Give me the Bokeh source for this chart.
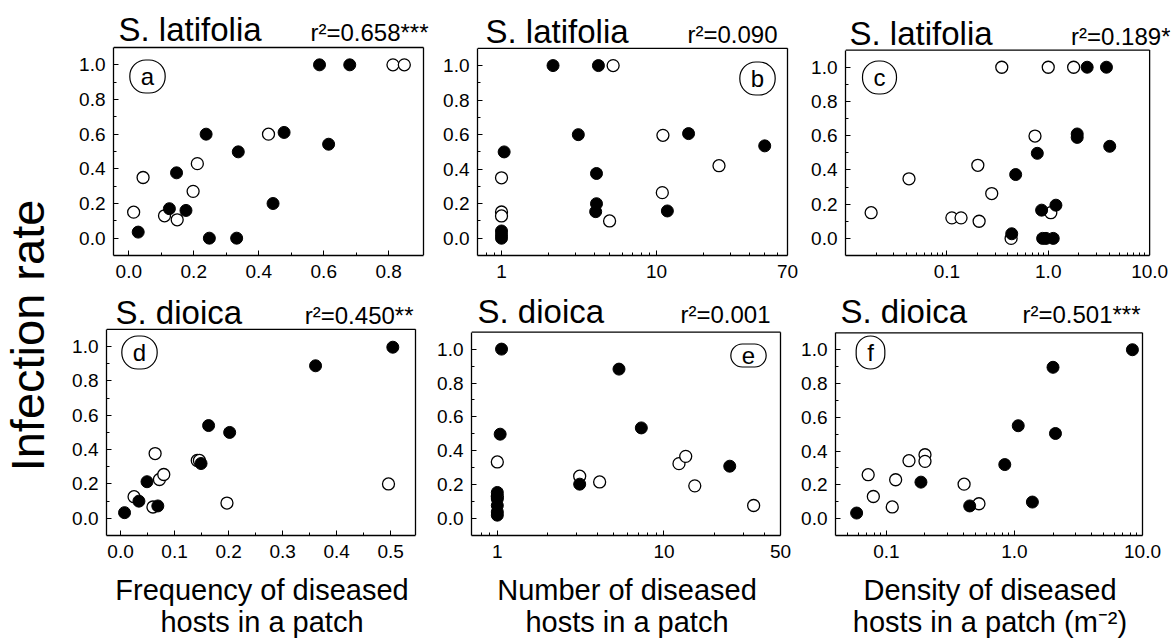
import math
from bokeh.plotting import figure
from bokeh.models import (Range1d, FixedTicker, CustomJSTickFormatter, Label, LinearAxis)
from bokeh.layouts import row, column
from bokeh.embed import file_html
from bokeh.resources import INLINE

FONT = "Liberation Sans"

# ---------------- data ----------------
# (a) S. latifolia, frequency
a_filled_x = [0.029, 0.125, 0.147, 0.176, 0.238, 0.248, 0.332, 0.337, 0.444, 0.478, 0.587, 0.615, 0.680]
a_filled_y = [0.035, 0.17, 0.377, 0.16, 0.60, 0.0, 0.0, 0.498, 0.20, 0.61, 1.0, 0.542, 1.0]
a_open_x = [0.015, 0.044, 0.110, 0.149, 0.198, 0.211, 0.430, 0.813, 0.848]
a_open_y = [0.15, 0.35, 0.129, 0.106, 0.27, 0.43, 0.60, 1.0, 1.0]

# (b) S. latifolia, number
b_filled_x = [2.15, 4.22, 3.13, 1.04, 4.10, 4.10, 4.05, 11.75, 16.1, 49.9, 1.0, 1.0, 1.0]
b_filled_y = [1.0, 1.0, 0.60, 0.50, 0.375, 0.20, 0.154, 0.158, 0.606, 0.535, 0.042, 0.02, 0.0]
b_open_x = [5.25, 1.0, 1.0, 1.0, 4.98, 11.0, 10.9, 25.3]
b_open_y = [1.0, 0.35, 0.152, 0.129, 0.10, 0.596, 0.264, 0.42]

# (c) S. latifolia, density
c_filled_x = [0.436, 0.477, 0.78, 0.86, 0.88, 0.95, 1.12, 1.19, 1.93, 1.93, 2.42, 3.75, 4.04]
c_filled_y = [0.027, 0.373, 0.497, 0.165, 0.0, 0.0, 0.0, 0.194, 0.61, 0.59, 1.0, 1.0, 0.538]
c_open_x = [0.0179, 0.0423, 0.112, 0.138, 0.208, 0.202, 0.277, 0.348, 0.43, 0.74, 1.0, 1.06, 1.78]
c_open_y = [0.15, 0.348, 0.12, 0.12, 0.10, 0.427, 0.262, 1.0, 0.0, 0.598, 1.0, 0.15, 1.0]

# (d) S. dioica, frequency
d_filled_x = [0.0074, 0.034, 0.049, 0.069, 0.149, 0.163, 0.202, 0.361, 0.504]
d_filled_y = [0.033, 0.10, 0.213, 0.072, 0.319, 0.54, 0.50, 0.888, 0.996]
d_open_x = [0.025, 0.060, 0.064, 0.072, 0.080, 0.142, 0.146, 0.197, 0.496]
d_open_y = [0.126, 0.066, 0.377, 0.226, 0.255, 0.337, 0.337, 0.089, 0.20]

# (e) S. dioica, number
e_filled_x = [1.06, 1.04, 1.0, 1.0, 1.0, 1.0, 1.0, 3.12, 5.37, 7.31, 24.8]
e_filled_y = [1.0, 0.498, 0.154, 0.116, 0.077, 0.039, 0.02, 0.203, 0.882, 0.535, 0.309]
e_open_x = [1.0, 1.0, 3.12, 4.11, 12.3, 13.5, 15.3, 34.5]
e_open_y = [0.334, 0.13, 0.25, 0.216, 0.324, 0.367, 0.193, 0.077]

# (f) S. dioica, density
f_filled_x = [0.0585, 0.186, 0.447, 0.84, 1.07, 1.38, 2.0, 2.09, 8.34]
f_filled_y = [0.033, 0.216, 0.075, 0.32, 0.55, 0.098, 0.896, 0.504, 1.0]
f_open_x = [0.072, 0.079, 0.111, 0.118, 0.150, 0.200, 0.200, 0.404, 0.528]
f_open_y = [0.26, 0.131, 0.069, 0.23, 0.343, 0.378, 0.339, 0.204, 0.088]

# ---------------- ticks / labels ----------------
y_major = [0.0, 0.2, 0.4, 0.6, 0.8, 1.0]
y_minor = [0.1, 0.3, 0.5, 0.7, 0.9]
a_xmajor = [0.0, 0.2, 0.4, 0.6, 0.8]
a_xminor = [0.1, 0.3, 0.5, 0.7]
d_xmajor = [0.0, 0.1, 0.2, 0.3, 0.4, 0.5]
d_xminor = [0.05, 0.15, 0.25, 0.35, 0.45]
b_xmajor = [1, 10, 70]
b_xminor = [0.8, 0.9, 2, 3, 4, 5, 6, 7, 8, 9, 20, 30, 40, 50, 60]
e_xmajor = [1, 10, 50]
e_xminor = [0.8, 0.9, 2, 3, 4, 5, 6, 7, 8, 9, 20, 30, 40]
c_xmajor = [0.1, 1.0, 10.0]
c_xminor = [0.02, 0.03, 0.04, 0.05, 0.06, 0.07, 0.08, 0.09,
            0.2, 0.3, 0.4, 0.5, 0.6, 0.7, 0.8, 0.9, 2, 3, 4, 5, 6, 7, 8, 9]
f_xmajor = [0.1, 1.0, 10.0]
f_xminor = [0.05, 0.06, 0.07, 0.08, 0.09,
            0.2, 0.3, 0.4, 0.5, 0.6, 0.7, 0.8, 0.9, 2, 3, 4, 5, 6, 7, 8, 9]

y_lo, y_hi = -0.1, 1.1

species_top = "S. latifolia"
species_bottom = "S. dioica"
r2_texts = ["r\u00b2=0.658***", "r\u00b2=0.090", "r\u00b2=0.189*",
            "r\u00b2=0.450**", "r\u00b2=0.001", "r\u00b2=0.501***"]
letters = ["a", "b", "c", "d", "e", "f"]
xlabels = [("Frequency of diseased", "hosts in a patch"),
           ("Number of diseased", "hosts in a patch"),
           ("Density of diseased", "hosts in a patch (m\u207b\u00b2)")]
ylabel = "Infection rate"

SP_SIZE, R2_SIZE = 33, 24
BASE_FIX = 0.31     # alphabetic baseline correction (fraction of font size)


def panel(fx, fy, ox, oy, xrange, log, xmaj, xmin, ndec, box, ext, species, r2,
          letter, letter_xy, sp_dx, gap, r2_dx, xlabel=None):
    # box: left border, box width, right border, box top (from canvas top), box height, bottom border
    fl, fw, fr, btop, fh, fb = box
    T = btop                                # title area kept inside the frame
    ytop = y_hi + (y_hi - y_lo) * T / fh
    x0, x1 = xrange
    if log:
        x1f = 10 ** (math.log10(x1) + (math.log10(x1) - math.log10(x0)) * ext / fw)
    else:
        x1f = x1 + (x1 - x0) * ext / fw
    p = figure(width=fl + fw + fr, height=T + fh + fb,
               x_axis_type="log" if log else "linear",
               x_range=Range1d(x0, x1f), y_range=Range1d(y_lo, ytop),
               output_backend="svg", toolbar_location=None, title_location=None,
               min_border_left=fl, min_border_right=fr - ext,
               min_border_top=0, min_border_bottom=fb)
    p.background_fill_color = "white"
    p.border_fill_color = "white"
    p.xgrid.visible = False
    p.ygrid.visible = False
    p.outline_line_color = None
    xax = p.xaxis[0]
    yax = p.yaxis[0]
    xax.ticker = FixedTicker(ticks=xmaj, minor_ticks=xmin)
    yax.ticker = FixedTicker(ticks=y_major, minor_ticks=y_minor)
    xax.formatter = CustomJSTickFormatter(code="return tick.toFixed(%d)" % ndec)
    yax.formatter = CustomJSTickFormatter(code="return tick.toFixed(1)")
    yax.bounds = (y_lo, y_hi)
    xax.bounds = (x0, x1)
    for ax in (xax, yax):
        ax.major_tick_in = 5
        ax.major_tick_out = 0
        ax.minor_tick_in = 3
        ax.minor_tick_out = 0
        ax.axis_line_color = "black"
        ax.axis_line_width = 1.3
        ax.major_tick_line_color = "black"
        ax.minor_tick_line_color = "black"
        ax.major_label_text_font = FONT
        ax.major_label_text_font_size = "19px"
        ax.major_label_text_color = "black"
    xax.major_label_standoff = 9
    yax.major_label_standoff = 8

    # right and top edges of the panel box
    p.segment(x0=[x1, x0], y0=[y_lo, y_hi], x1=[x1, x1], y1=[y_hi, y_hi],
              line_color="black", line_width=1.3)

    p.scatter(ox, oy, size=12, fill_color="white", line_color="black", line_width=1.3)
    p.scatter(fx, fy, size=12, fill_color="black", line_color="black", line_width=1)

    p.add_layout(Label(x=sp_dx, y=fh + gap + BASE_FIX * SP_SIZE, x_units="screen", y_units="screen",
                       text=species, text_align="left", text_baseline="alphabetic",
                       text_font=FONT, text_font_size="%dpx" % SP_SIZE, text_color="black"))
    p.add_layout(Label(x=fw + r2_dx, y=fh + gap + BASE_FIX * R2_SIZE, x_units="screen", y_units="screen",
                       text=r2, text_align="right", text_baseline="alphabetic",
                       text_font=FONT, text_font_size="%dpx" % R2_SIZE, text_color="black"))
    lx, ly = letter_xy
    p.add_layout(Label(x=lx if lx > 0 else fw + lx, y=fh - ly,
                       x_units="screen", y_units="screen",
                       text=letter, text_align="center", text_baseline="middle",
                       text_font=FONT, text_font_size="24px", text_color="black",
                       border_line_color="black", border_line_width=1.2,
                       border_radius=16, background_fill_color="white",
                       padding=dict(left=11, right=11, top=3, bottom=3)))
    if xlabel is not None:
        xax.axis_label = xlabel[0]
        xax.axis_label_standoff = 13
        xax.axis_label_text_font = FONT
        xax.axis_label_text_font_size = "29px"
        xax.axis_label_text_font_style = "normal"
        xax.axis_label_text_color = "black"
        ax2 = LinearAxis(ticker=FixedTicker(ticks=[]), axis_line_color=None,
                         major_tick_in=0, major_tick_out=0, minor_tick_in=0, minor_tick_out=0,
                         major_label_text_font_size="0px", major_label_standoff=0,
                         axis_label=xlabel[1], axis_label_standoff=-3,
                         axis_label_text_font=FONT, axis_label_text_font_size="29px",
                         axis_label_text_font_style="normal", axis_label_text_color="black")
        p.add_layout(ax2, "below")
    return p


# row 1 canvas: 292 px high; row 2 canvas: 348 px high
pa = panel(a_filled_x, a_filled_y, a_open_x, a_open_y, (-0.047, 0.907), False,
           a_xmajor, a_xminor, 1, (45, 310, 7, 47, 208, 37), 7, species_top, r2_texts[0],
           letters[0], (34, 29), 5, 8, 5)
pb = panel(b_filled_x, b_filled_y, b_open_x, b_open_y, (0.7, 70), True,
           b_xmajor, b_xminor, 0, (47, 310, 21, 48, 208, 36), 2, species_top, r2_texts[1],
           letters[1], (-30, 31), 8, 6, -10)
pc = panel(c_filled_x, c_filled_y, c_open_x, c_open_y, (0.01, 10), True,
           c_xmajor, c_xminor, 1, (35, 306, 22, 50, 207, 35), 21, species_top, r2_texts[2],
           letters[2], (34, 29), 4, 5, 19)
pd = panel(d_filled_x, d_filled_y, d_open_x, d_open_y, (-0.026, 0.546), False,
           d_xmajor, d_xminor, 1, (38, 309, 5, 37, 207, 104), 2, species_bottom, r2_texts[3],
           letters[3], (33, 24), 9, 6, -2, xlabels[0])
pe = panel(e_filled_x, e_filled_y, e_open_x, e_open_y, (0.7, 50), True,
           e_xmajor, e_xminor, 0, (51, 309, 15, 40, 205, 103), 2, species_bottom, r2_texts[4],
           letters[4], (-32, 25), 6, 9, -10, xlabels[1])
pf = panel(f_filled_x, f_filled_y, f_open_x, f_open_y, (0.04, 10), True,
           f_xmajor, f_xminor, 1, (40, 307, 29, 41, 206, 101), 2, species_bottom, r2_texts[5],
           letters[5], (35, 23), 5, 8, -2, xlabels[2])

left = figure(width=68, height=640, output_backend="svg", toolbar_location=None,
              title_location=None, x_axis_location=None, y_axis_location=None,
              min_border=0, x_range=Range1d(0, 1), y_range=Range1d(0, 1))
left.outline_line_color = None
left.background_fill_color = "white"
left.border_fill_color = "white"
left.xgrid.visible = False
left.ygrid.visible = False
left.add_layout(Label(x=27, y=305, x_units="screen", y_units="screen",
                      text=ylabel, angle=90, angle_units="deg",
                      text_align="center", text_baseline="alphabetic",
                      text_font=FONT, text_font_size="47px", text_color="black"))

layout = row(left, column(row(pa, pb, pc), row(pd, pe, pf)))

open("out.html", "w").write(file_html(layout, INLINE, title="Infection rate"))
